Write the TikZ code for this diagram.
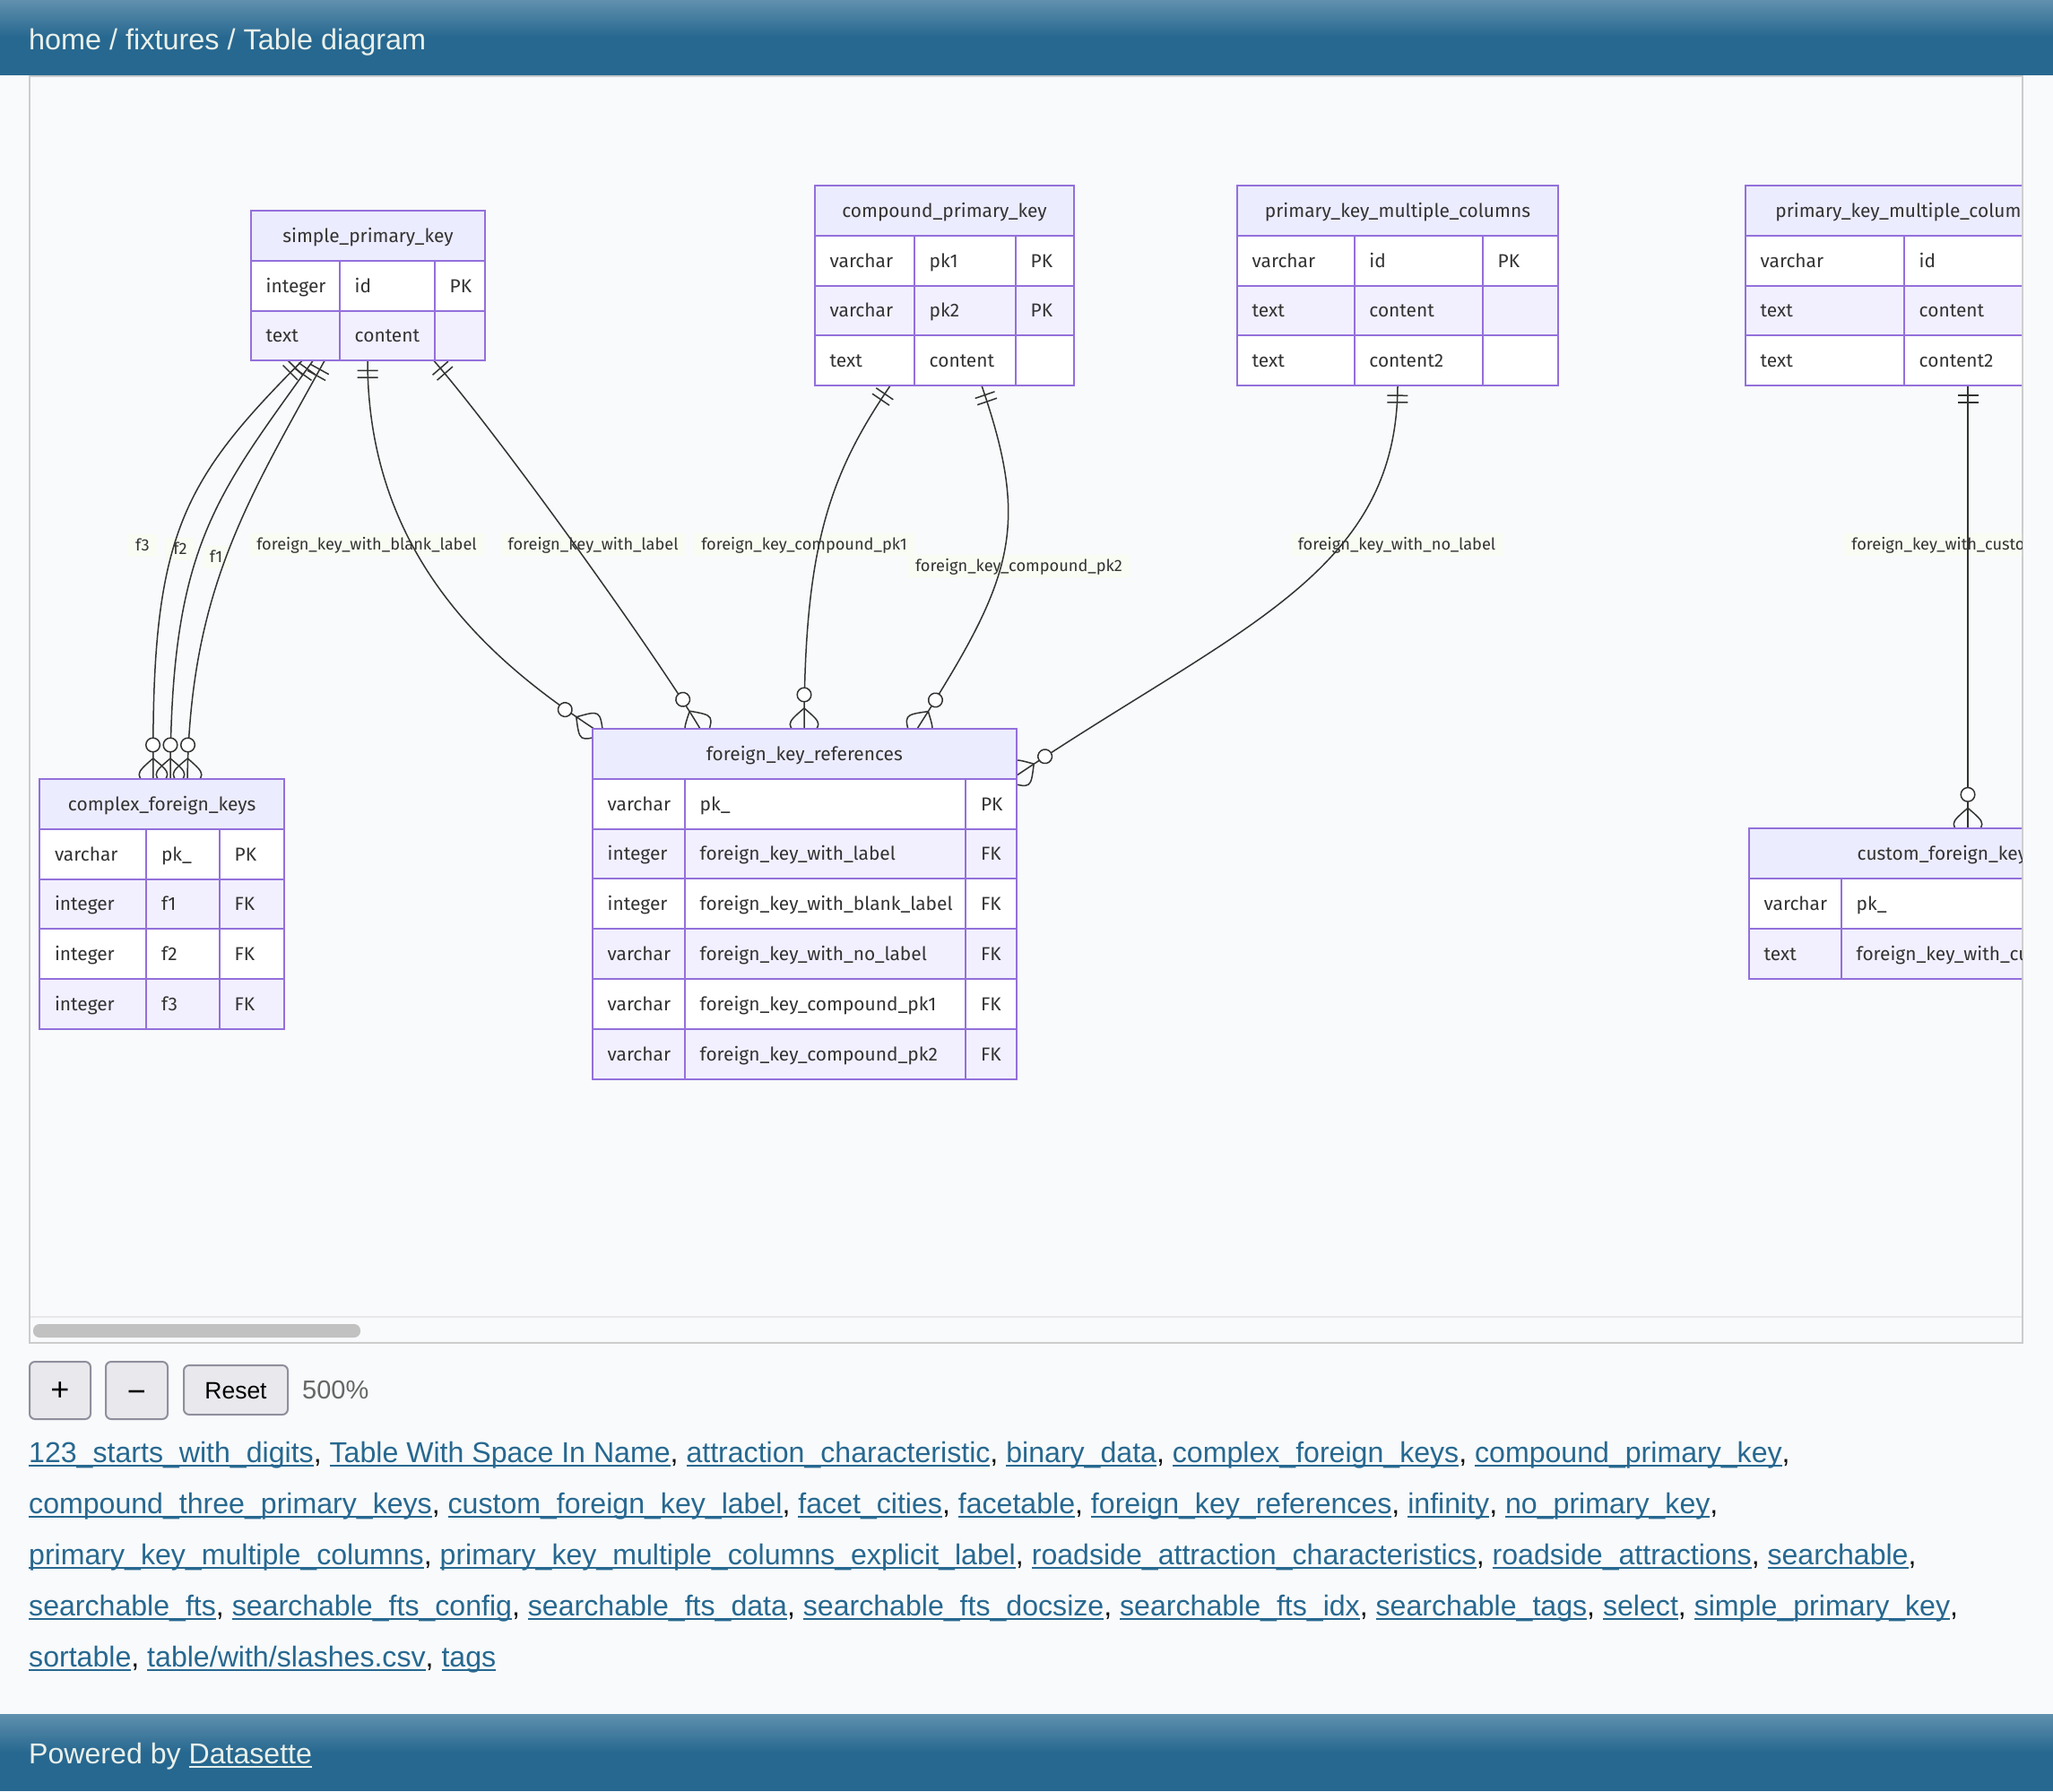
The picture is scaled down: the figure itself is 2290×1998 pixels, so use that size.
\documentclass[tikz,border=0pt]{standalone}
\usepackage{fontspec}
\setmainfont{Liberation Sans}
\newfontfamily\erfont{Fira Sans}
\usetikzlibrary{decorations.markings}
\definecolor{pagebg}{HTML}{F8FAFB}
\definecolor{hdtop}{HTML}{6090AD}
\definecolor{hdbot}{HTML}{276890}
\definecolor{hdtext}{HTML}{E9F0EA}
\definecolor{linkc}{HTML}{276890}
\definecolor{bodyc}{HTML}{111111}
\definecolor{frameC}{HTML}{CCCCCC}
\definecolor{thumbC}{HTML}{C1C1C1}
\definecolor{trackC}{HTML}{E8E8E8}
\definecolor{btnfill}{HTML}{E9E9ED}
\definecolor{btnline}{HTML}{8F8F9D}
\definecolor{pctC}{HTML}{666666}
\definecolor{erborder}{HTML}{9370DB}
\definecolor{erhead}{HTML}{ECECFF}
\definecolor{ereven}{HTML}{F2F0FF}
\definecolor{ertext}{HTML}{333333}
\definecolor{edgec}{HTML}{333333}
\definecolor{lblbg}{HTML}{F8FCF2}
\newcommand{\ulink}[1]{{\setbox0=\hbox{#1}\rlap{\rule[-5pt]{\wd0}{2pt}}\box0}}
\newcommand{\lk}[1]{{\color{linkc}\ulink{#1}}}
% #1 name #2 x0 #3 x1 #4 x2 #5 x3 #6 ytop #7 nrows #8 title #9 rows
\newcommand{\ertable}[9]{%
  \fill[erhead] (#2,#6) rectangle (#5,#6+55.8);
  \node[ertxt, anchor=base] (#1-title) at ({(#2+#5)/2},#6+35.2) {#8};
  \foreach \ty/\nm/\ky [count=\ri] in {#9}{%
    \pgfmathsetmacro\rt{#6+55.8*\ri}%
    \ifodd\ri\def\rfill{white}\else\def\rfill{ereven}\fi
    \fill[fill=\rfill] (#2,\rt) rectangle (#5,\rt+55.8);
    \draw[erline] (#2,\rt) -- (#5,\rt);
    \node[ertxt, anchor=base west] (#1-\ri-type) at (#2+16.5,\rt+35.2) {\ty};
    \node[ertxt, anchor=base west] (#1-\ri-name) at (#3+16.5,\rt+35.2) {\nm};
    \node[ertxt, anchor=base west] (#1-\ri-key) at (#4+16.5,\rt+35.2) {\ky};
  }%
  \draw[erline] (#3,#6+55.8) -- (#3,#6+55.8*#7+55.8) (#4,#6+55.8) -- (#4,#6+55.8*#7+55.8);
  \draw[erline] (#2,#6) rectangle (#5,#6+55.8*#7+55.8);
  \node[inner sep=0, minimum width={(#5-#2)*1pt}, minimum height={(55.8*#7+55.8)*1pt}, anchor=north west] (#1) at (#2,#6) {};
}
\begin{document}
\begin{tikzpicture}[x=1pt,y=-1pt,
  pagetxt/.style={inner sep=0, font=\fontsize{32.1}{38}\selectfont},
  ertxt/.style={inner sep=0, text=ertext, font=\erfont\fontsize{20.9}{24}\selectfont},
  erline/.style={draw=erborder, line width=2pt},
  elabel/.style={fill=lblbg, text=ertext, font=\erfont\fontsize{18.2}{22}\selectfont, inner xsep=8pt, inner ysep=0pt, text height=14.2pt, text depth=1.6pt, minimum height=25pt},
  btn/.style={draw=btnline, fill=btnfill, line width=2pt, rounded corners=6pt},
  rel/.style={draw=edgec, line width=1.5pt, postaction={decorate}, decoration={markings,
     mark=at position 0 with {\draw[edgec, line width=1.5pt] (11,-11.5) -- (11,11.5) (18.7,-11.5) -- (18.7,11.5);},
     mark=at position 0.9999 with {\draw[edgec, line width=1.5pt, fill=white] (-38,0) circle[radius=7.8]; \draw[edgec, line width=1.5pt] (-23,0) .. controls (-5,21) .. (13,0) .. controls (-5,-21) .. (-23,0);}}},
]
\useasboundingbox (0,0) rectangle (2290,1998);
\fill[pagebg] (0,0) rectangle (2290,1998);
% header
\shade[top color=hdtop, bottom color=hdbot] (0,0) rectangle (2290,41.5);
\fill[hdbot] (0,41.4) rectangle (2290,83.5);
\node[pagetxt, font=\fontsize{32.4}{38}\selectfont, anchor=base west, text=hdtext] (crumbs) at (32,55.5) {home / fixtures / Table diagram};
% container
\draw[trackC, line width=1.5pt] (33,1469) -- (2256,1469);
\fill[thumbC, rounded corners=7pt] (37,1477) rectangle (402,1492);
\draw[frameC, line width=2pt] (33,84.5) rectangle (2256,1498);
\begin{scope}
\clip (34,85.5) rectangle (2255,1468);
% anchor points of the relationships
\coordinate (spk-a3) at (337,402.4);
\coordinate (spk-a2) at (349,402.4);
\coordinate (spk-a1) at (362,402.4);
\coordinate (spk-b) at (410,402.4);
\coordinate (spk-c) at (484,402.4);
\coordinate (cfk-a3) at (171,869);
\coordinate (cfk-a2) at (190,869);
\coordinate (cfk-a1) at (209,869);
\coordinate (fkr-b) at (662,812.5);
\coordinate (fkr-c) at (781,813);
\coordinate (fkr-p1) at (897,813);
\coordinate (fkr-p2) at (1023,813);
\coordinate (fkr-n) at (1134,865);
\coordinate (cpk-p1) at (993,430.2);
\coordinate (cpk-p2) at (1095,430.2);
\coordinate (pkm-n) at (1559,430.2);
\coordinate (pke-c) at (2195,430.2);
\coordinate (cfl-c) at (2195,924.4);
% labels
\node[elabel] (lbl-f3) at (159,608.5) {f3};
\node[elabel] (lbl-f2) at (201,612) {f2};
\node[elabel] (lbl-f1) at (241,621.5) {f1};
\node[elabel] (lbl-blank) at (409,607.5) {foreign\_key\_with\_blank\_label};
\node[elabel] (lbl-label) at (661.6,607.5) {foreign\_key\_with\_label};
\node[elabel] (lbl-pk1) at (897,607.5) {foreign\_key\_compound\_pk1};
\node[elabel] (lbl-pk2) at (1136.5,631.5) {foreign\_key\_compound\_pk2};
\node[elabel] (lbl-nol) at (1558,607.5) {foreign\_key\_with\_no\_label};
\node[elabel] (lbl-cus) at (2195,607.5) {foreign\_key\_with\_custom\_label};
% relationships
\draw[rel] (spk-a3) .. controls (200,540) and (168,600) .. (cfk-a3);
\draw[rel] (spk-a2) .. controls (240,555) and (190,610) .. (cfk-a2);
\draw[rel] (spk-a1) .. controls (275,560) and (212,660) .. (cfk-a1);
\draw[rel] (spk-b) .. controls (410,625) and (555,742) .. (fkr-b);
\draw[rel] (spk-c) .. controls (560,490) and (735,735) .. (fkr-c);
\draw[rel] (cpk-p1) .. controls (925,530) and (897,610) .. (fkr-p1);
\draw[rel] (cpk-p2) .. controls (1150,590) and (1130,645) .. (fkr-p2);
\draw[rel] (pkm-n) .. controls (1558,640) and (1380,700) .. (fkr-n);
\draw[rel] (pke-c) -- (cfl-c);
% tables
\ertable{spk}{280}{379}{485}{541}{235}{2}{simple\_primary\_key}{integer/id/PK, text/content/}
\ertable{cpk}{909}{1020}{1133}{1198}{207}{3}{compound\_primary\_key}{varchar/pk1/PK, varchar/pk2/PK, text/content/}
\ertable{pkm}{1380}{1510.7}{1654}{1738}{207}{3}{primary\_key\_multiple\_columns}{varchar/id/PK, text/content/, text/content2/}
\ertable{pke}{1947}{2124}{2390}{2447}{207}{3}{primary\_key\_multiple\_columns\_explicit\_label}{varchar/id/PK, text/content/, text/content2/}
\ertable{cfk}{44.3}{163.3}{245}{317}{869}{4}{complex\_foreign\_keys}{varchar/pk\_/PK, integer/f1/FK, integer/f2/FK, integer/f3/FK}
\ertable{fkr}{661}{764}{1077.3}{1133.7}{813}{6}{foreign\_key\_references}{varchar/pk\_/PK, integer/foreign\_key\_with\_label/FK, integer/foreign\_key\_with\_blank\_label/FK, varchar/foreign\_key\_with\_no\_label/FK, varchar/foreign\_key\_compound\_pk1/FK, varchar/foreign\_key\_compound\_pk2/FK}
\ertable{cfl}{1951}{2054}{2380}{2439}{924.4}{2}{custom\_foreign\_key\_label}{varchar/pk\_/PK, text/foreign\_key\_with\_custom\_label/FK}
\end{scope}
% zoom controls
\draw[btn] (33,1519) rectangle (101,1583);
\node[pagetxt, font=\fontsize{36}{40}\selectfont] (plus) at (67,1552) {+};
\draw[btn] (118,1519) rectangle (187,1583);
\node[pagetxt, font=\fontsize{36}{40}\selectfont] (minus) at (152.5,1558) {−};
\draw[btn] (205,1523) rectangle (321,1578);
\node[pagetxt, font=\fontsize{26.5}{30}\selectfont, anchor=base] (reset) at (263,1560) {Reset};
\node[pagetxt, font=\fontsize{29}{34}\selectfont, anchor=base west, text=pctC] (pct) at (337,1560) {500\%};
% table links
\node[pagetxt, anchor=base west, text=bodyc] (links1) at (32,1631) {\lk{123\_starts\_with\_digits}, \lk{Table With Space In Name}, \lk{attraction\_characteristic}, \lk{binary\_data}, \lk{complex\_foreign\_keys}, \lk{compound\_primary\_key},};
\node[pagetxt, anchor=base west, text=bodyc] (links2) at (32,1688) {\lk{compound\_three\_primary\_keys}, \lk{custom\_foreign\_key\_label}, \lk{facet\_cities}, \lk{facetable}, \lk{foreign\_key\_references}, \lk{infinity}, \lk{no\_primary\_key},};
\node[pagetxt, anchor=base west, text=bodyc] (links3) at (32,1745) {\lk{primary\_key\_multiple\_columns}, \lk{primary\_key\_multiple\_columns\_explicit\_label}, \lk{roadside\_attraction\_characteristics}, \lk{roadside\_attractions}, \lk{searchable},};
\node[pagetxt, anchor=base west, text=bodyc] (links4) at (32,1802) {\lk{searchable\_fts}, \lk{searchable\_fts\_config}, \lk{searchable\_fts\_data}, \lk{searchable\_fts\_docsize}, \lk{searchable\_fts\_idx}, \lk{searchable\_tags}, \lk{select}, \lk{simple\_primary\_key},};
\node[pagetxt, anchor=base west, text=bodyc] (links5) at (32,1859) {\lk{sortable}, \lk{table/with/slashes.csv}, \lk{tags}};
% footer
\shade[top color=hdtop, bottom color=hdbot] (0,1912) rectangle (2290,1955);
\fill[hdbot] (0,1954.9) rectangle (2290,1998);
\node[pagetxt, anchor=base west, text=hdtext] (footer) at (32,1967) {Powered by \ulink{Datasette}};
\end{tikzpicture}
\end{document}
